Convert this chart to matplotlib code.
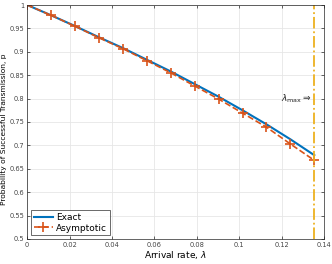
import matplotlib.pyplot as plt
import numpy as np

# arrival rate samples (13 points up to lambda_max)
lam_max = 0.1354
lam = [0.0, 0.01128, 0.02257, 0.03385, 0.04513, 0.05642, 0.0677,
       0.07898, 0.09027, 0.10155, 0.11283, 0.12412, 0.1354]
p_exact = [1.0, 0.978, 0.955, 0.931, 0.908, 0.883, 0.858,
           0.831, 0.804, 0.775, 0.745, 0.713, 0.679]
p_asym = [1.0, 0.978, 0.9545, 0.930, 0.9067, 0.881, 0.855,
          0.827, 0.799, 0.769, 0.739, 0.703, 0.668]

blue = '#0072BD'
orange = '#D95319'
yellow = '#EDB120'

plt.rcParams['font.family'] = 'DejaVu Sans'
fig = plt.figure(figsize=(3.32, 2.64), dpi=100)
ax = fig.add_axes([0.082, 0.095, 0.894, 0.886])

ax.plot(lam, p_exact, color=blue, lw=1.5, label='Exact')
ax.plot(lam, p_asym, color=orange, lw=1.2, ls='--', marker='+', ms=6.5,
        mew=1.2, label='Asymptotic')
ax.axvline(lam_max, color=yellow, lw=1.3, ls='-.')
ax.text(lam_max - 0.0012, 0.80, r'$\lambda_{\rm max} \Rightarrow$', ha='right',
        va='center', fontsize=6.5, color='#262626')

ax.set_xlim(0, 0.14)
ax.set_ylim(0.5, 1.0)
xt = np.arange(0, 0.141, 0.02)
yt = np.arange(0.5, 1.001, 0.05)
ax.set_xticks(xt)
ax.set_xticklabels(['0', '0.02', '0.04', '0.06', '0.08', '0.1', '0.12', '0.14'])
ax.set_yticks(yt)
ax.set_yticklabels(['0.5', '0.55', '0.6', '0.65', '0.7', '0.75', '0.8',
                    '0.85', '0.9', '0.95', '1'])
ax.tick_params(direction='in', length=2.5, width=0.5, labelsize=4.8,
               colors='#262626', top=True, right=True, pad=2)
for lb in ax.get_xticklabels() + ax.get_yticklabels():
    lb.set_color('#444444')
ax.grid(True, color='#e6e6e6', lw=0.6)
for s in ax.spines.values():
    s.set_color('#262626')
    s.set_linewidth(0.5)
ax.set_xlabel('Arrival rate, $\\lambda$', fontsize=6.5, labelpad=1)
ax.set_ylabel('Probability of Successful Transmission, p', fontsize=5.4)
ax.yaxis.set_label_coords(-0.067, 0.47)
leg = ax.legend(loc='lower left', fontsize=6.5, frameon=True, fancybox=False,
                edgecolor='#262626', borderpad=0.3, handlelength=2.2,
                handletextpad=0.3, labelspacing=0.2, borderaxespad=0.4)
leg.get_frame().set_linewidth(0.6)

fig.savefig('out.png', dpi=100)
